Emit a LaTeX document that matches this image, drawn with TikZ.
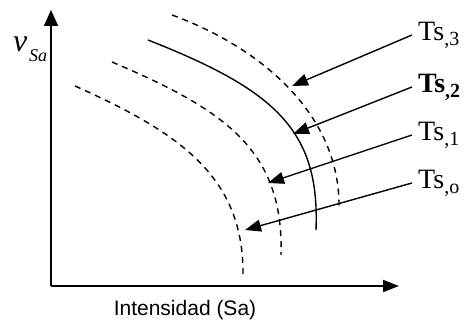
\documentclass[tikz,border=0pt]{standalone}
\usepackage{fontspec}
\setmainfont{Liberation Serif}
\newfontfamily\arialfont{Liberation Sans}
\usetikzlibrary{arrows.meta}
\newcommand{\tsub}[1]{\raisebox{-5pt}{\fontsize{20}{20}\selectfont ,#1}}

\begin{document}
\begin{tikzpicture}[x=1pt,y=-1pt,
	tip/.style={-{Triangle[length=16pt,width=12pt]}},
	curva/.style={line width=1.4pt},
	trazos/.style={line width=1.4pt,dash pattern=on 6pt off 5pt},
	ts/.style={anchor=west,inner xsep=6pt,inner ysep=0pt,font=\fontsize{28}{32}\selectfont}]
			\useasboundingbox (0,0) rectangle (471,320);
			\coordinate (O) at (51,286);
			\coordinate (ytip) at (51,10);
			\coordinate (xtip) at (399,286);
			\begin{scope}[line width=1.8pt]
			\draw[-{Triangle[length=16pt,width=14pt]}] (O) -- (ytip);
			\draw[-{Triangle[length=16pt,width=12pt]}] (O) -- (xtip);
			\end{scope}
			\node[anchor=base west,inner sep=0pt] (nu) at (13,52) {\fontsize{32}{32}\selectfont\itshape ν};
			\node[anchor=base west,inner sep=0pt] (sa) at (29,62) {\fontsize{18}{18}\selectfont\itshape Sa};
			\node[anchor=base,inner sep=0pt] (intens) at (185,316) {\arialfont\fontsize{21}{24}\selectfont Intensidad (Sa)};
			
			% curvas
			\draw[curva] (148,40) .. controls (275,90) and (320,130) .. (316,230);
			\draw[trazos] (172,15) .. controls (262,48) and (340,115) .. (339,207);
			\draw[trazos] (112,62) .. controls (225,110) and (284,150) .. (281,255);
			\draw[trazos] (75,86) .. controls (185,135) and (245,180) .. (243,278);
			
			\node[ts] (ts3) at (412,35) {Ts\tsub{3}};
			\node[ts] (ts2) at (412,87) {\bfseries Ts\tsub{2}};
			\node[ts] (ts1) at (412,135) {Ts\tsub{1}};
			\node[ts] (ts0) at (412,183) {Ts\tsub{o}};
			\coordinate (t3) at (292,86);
			\coordinate (t2) at (293,134);
			\coordinate (t1) at (268,183);
			\coordinate (t0) at (245,230);
			\begin{scope}[line width=1.4pt]
			\draw[tip] (ts3.west) -- (t3);
			\draw[tip] (ts2.west) -- (t2);
			\draw[tip] (ts1.west) -- (t1);
			\draw[tip] (ts0.west) -- (t0);
			\end{scope}
\end{tikzpicture}
\end{document}
